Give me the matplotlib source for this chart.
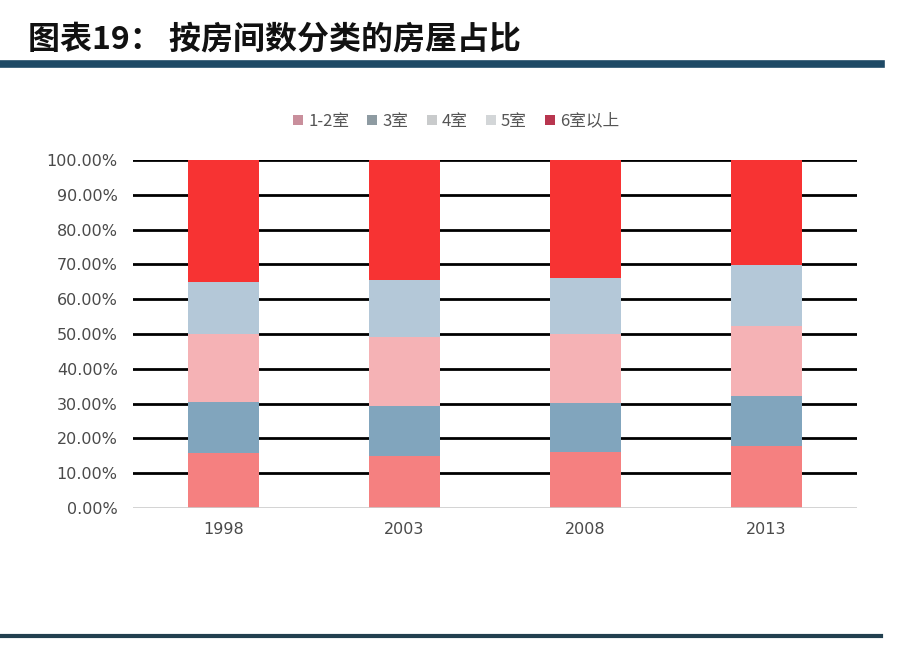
import numpy as np
import matplotlib
matplotlib.use('Agg')
import matplotlib.pyplot as plt
from matplotlib.patches import Patch

plt.rcParams['font.family'] = ['Noto Sans CJK SC', 'DejaVu Sans']

years = ['1998', '2003', '2008', '2013']
series = ['1-2室', '3室', '4室', '5室', '6室以上']
rooms_1_2 = [15.7, 14.9, 16.2, 17.8]
rooms_3 = [14.7, 14.4, 14.1, 14.4]
rooms_4 = [19.5, 19.9, 19.6, 20.2]
rooms_5 = [15.1, 16.3, 16.3, 17.4]
rooms_6 = [35.0, 34.5, 33.8, 30.2]

bar_colors = ['#f58080', '#81a5bd', '#f5b2b5', '#b4c8d8', '#f73333']
legend_colors = ['#c98f9c', '#8e9ba2', '#c9cbcc', '#d3d6d8', '#b8364f']

fig = plt.figure(figsize=(8.98, 6.48), dpi=100)

# header
fig.text(0.031, 0.939, '图表19： 按房间数分类的房屋占比', fontsize=23,
         fontweight='bold', color='#111111', va='center', ha='left')
fig.add_artist(plt.Line2D([0, 0.981], [0.901, 0.901], color='#1f4a66',
                          linewidth=5.5, transform=fig.transFigure))
fig.add_artist(plt.Line2D([0, 0.981], [0.019, 0.019], color='#22404f',
                          linewidth=3, transform=fig.transFigure))

ax = fig.add_axes([0.148, 0.216, 0.806, 0.537])

data = [rooms_1_2, rooms_3, rooms_4, rooms_5, rooms_6]
x = np.arange(len(years))
bottom = np.zeros(len(years))
for vals, col in zip(data, bar_colors):
    ax.bar(x, vals, 0.39, bottom=bottom, color=col, zorder=3)
    bottom += np.array(vals)

ax.set_xlim(-0.5, 3.5)
ax.set_ylim(0, 100)
ax.set_yticks(np.arange(0, 101, 10))
ax.set_yticklabels([f'{v:.2f}%' for v in np.arange(0, 101, 10)])
ax.set_xticks(x)
ax.set_xticklabels(years)
ax.tick_params(axis='both', length=0, labelsize=11.5, colors='#4a4a4a')
ax.tick_params(axis='y', pad=11)
ax.tick_params(axis='x', pad=10)
for lbl in ax.get_yticklabels() + ax.get_xticklabels():
    lbl.set_family('DejaVu Sans')

for v in np.arange(10, 101, 10):
    ax.axhline(v, color='black', linewidth=2, zorder=1)
ax.axhline(0, color='#cccccc', linewidth=1.2, zorder=4)
for s in ax.spines.values():
    s.set_visible(False)

handles = [Patch(facecolor=c, edgecolor='none') for c in legend_colors]
fig.legend(handles, series, loc='center', bbox_to_anchor=(0.508, 0.813),
           ncol=5, frameon=False, fontsize=12, handlelength=0.6,
           handleheight=0.6, handletextpad=0.3, columnspacing=1.1,
           labelcolor='#555555')

fig.savefig('out.png', dpi=100, facecolor='white')
